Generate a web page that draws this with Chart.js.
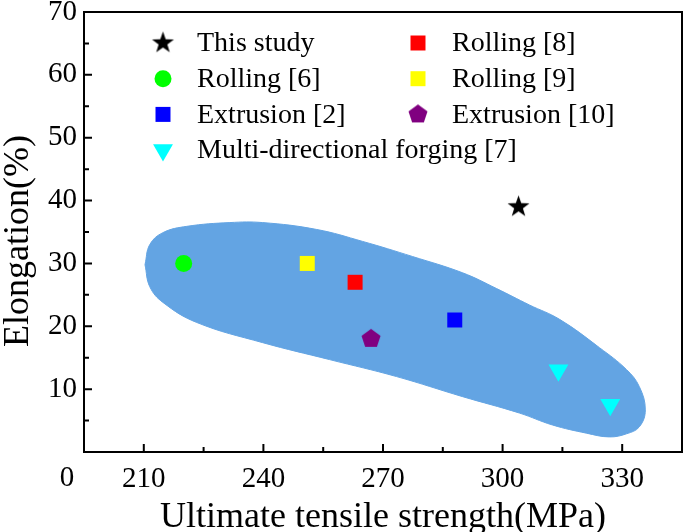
<!DOCTYPE html>
<html>
<head>
<meta charset="utf-8">
<script src="https://cdn.jsdelivr.net/npm/chart.js@4.4.0/dist/chart.umd.min.js"></script>
<style>
  html, body { margin: 0; padding: 0; background: #fff; }
</style>
</head>
<body>
<canvas id="chart" width="685" height="532"></canvas>
<script>
// Series (left legend column first, then right column)
const seriesNames = ['This study', 'Rolling [6]', 'Extrusion [2]', 'Multi-directional forging [7]',
                     'Rolling [8]', 'Rolling [9]', 'Extrusion [10]'];
const strengthValues = [[304], [220], [288], [314, 327], [263], [251], [267]];
const elongationValues = [[39], [30], [21], [13, 7.5], [27], [30], [18]];

// Outline of the shaded region (UTS, elongation)
const blobStrength = [210.3, 211.5, 214.8, 220.8, 231.6, 239.8, 253.4, 264.9, 277.4, 290.0, 298.5, 306.7,
                      314.3, 324.3, 331.1, 334.3, 335.8, 334.3, 331.1, 326.8, 321.0, 312.5, 304.2, 290.0,
                      273.4, 256.6, 239.8, 223.3, 214.8, 211.5, 210.3];
const blobElongation = [29.8, 33.0, 34.9, 35.9, 36.5, 36.5, 35.4, 33.5, 31.1, 28.5, 26.0, 23.4,
                        21.1, 16.6, 13.1, 10.4, 6.7, 4.0, 2.9, 2.4, 3.0, 4.3, 6.2, 8.8,
                        12.0, 14.7, 17.4, 20.6, 23.8, 26.3, 29.8];

// Axis ticks
const xTicks = [210, 240, 270, 300, 330];
const xMinorTicks = [225, 255, 285, 315];
const yTicks = [10, 20, 30, 40, 50, 60, 70];
const yMinorTicks = [5, 15, 25, 35, 45, 55, 65];

const FONT = "'Liberation Serif', 'Times New Roman', serif";

// Marker helpers for shapes Chart.js doesn't have
function polyCanvas(outer, inner, n, color) {
    const c = document.createElement('canvas');
    const s = Math.ceil(outer * 2 + 2);
    c.width = s; c.height = s;
    const g = c.getContext('2d');
    g.fillStyle = color;
    g.beginPath();
    const steps = inner ? n * 2 : n;
    for (let i = 0; i < steps; i++) {
        const r = inner && i % 2 ? inner : outer;
        const a = -Math.PI / 2 + i * Math.PI * 2 / steps;
        const px = s / 2 + r * Math.cos(a), py = s / 2 + r * Math.sin(a);
        i ? g.lineTo(px, py) : g.moveTo(px, py);
    }
    g.closePath();
    g.fill();
    return c;
}

const starImg = polyCanvas(11.5, 4.6, 5, '#000000');
const pentagonImg = polyCanvas(10, 0, 5, '#800080');

const seriesColors = ['#000000', '#00ff00', '#0000ff', '#00ffff', '#ff0000', '#ffff00', '#800080'];
const seriesStyles = [starImg, 'circle', 'rect', 'triangle', 'rect', 'rect', pentagonImg];
const seriesRadius = [10, 8.5, 10.6, 11.5, 10.6, 10.6, 10];
const seriesRotation = [0, 0, 0, 180, 0, 0, 0];

const datasets = seriesNames.map((name, i) => ({
    label: name,
    data: strengthValues[i].map((x, j) => ({ x: x, y: elongationValues[i][j] })),
    backgroundColor: seriesColors[i],
    borderColor: seriesColors[i],
    pointStyle: seriesStyles[i],
    pointRadius: seriesRadius[i],
    pointRotation: seriesRotation[i],
    pointBorderWidth: 0,
    order: 0
}));

datasets.push({
    label: 'region',
    data: blobStrength.map((x, i) => ({ x: x, y: blobElongation[i] })),
    showLine: true,
    fill: 'shape',
    backgroundColor: 'rgb(99,164,227)',
    borderColor: 'rgb(99,164,227)',
    borderWidth: 1,
    pointRadius: 0,
    tension: 0.4,
    order: 10
});

function drawMarker(ctx, style, r, rot, color, x, y) {
    ctx.save();
    ctx.fillStyle = color;
    if (typeof style !== 'string') {
        ctx.drawImage(style, x - style.width / 2, y - style.height / 2);
    } else {
        ctx.translate(x, y);
        ctx.rotate(rot * Math.PI / 180);
        ctx.beginPath();
        if (style === 'circle') {
            ctx.arc(0, 0, r, 0, Math.PI * 2);
        } else if (style === 'rect') {
            const h = r * Math.SQRT1_2;
            ctx.rect(-h, -h, 2 * h, 2 * h);
        } else if (style === 'triangle') {
            for (let k = 0; k < 3; k++) {
                const a = k * Math.PI * 2 / 3;
                const px = Math.sin(a) * r, py = -Math.cos(a) * r;
                k ? ctx.lineTo(px, py) : ctx.moveTo(px, py);
            }
            ctx.closePath();
        }
        ctx.fill();
    }
    ctx.restore();
}

// Frame, inward ticks, titles and legend
const decorPlugin = {
    id: 'decor',
    afterDraw(chart) {
        const ctx = chart.ctx;
        const a = chart.chartArea;
        const xs = chart.scales.x, ys = chart.scales.y;
        ctx.save();
        ctx.strokeStyle = '#000';
        ctx.lineWidth = 2;
        ctx.strokeRect(a.left, a.top, a.right - a.left, a.bottom - a.top);

        ctx.beginPath();
        xTicks.forEach(v => { const p = xs.getPixelForValue(v); ctx.moveTo(p, a.bottom); ctx.lineTo(p, a.bottom - 8); });
        xMinorTicks.forEach(v => { const p = xs.getPixelForValue(v); ctx.moveTo(p, a.bottom); ctx.lineTo(p, a.bottom - 5); });
        yTicks.forEach(v => { const p = ys.getPixelForValue(v); ctx.moveTo(a.left, p); ctx.lineTo(a.left + 8, p); });
        yMinorTicks.forEach(v => { const p = ys.getPixelForValue(v); ctx.moveTo(a.left, p); ctx.lineTo(a.left + 5, p); });
        ctx.stroke();

        ctx.fillStyle = '#000';
        // origin label
        ctx.font = '29px ' + FONT;
        ctx.textAlign = 'center';
        ctx.textBaseline = 'alphabetic';
        ctx.fillText('0', a.left - 17, 486);

        // axis titles
        ctx.font = '36px ' + FONT;
        ctx.fillText('Ultimate tensile strength(MPa)', (a.left + a.right) / 2, 527);
        ctx.save();
        ctx.translate(28, 241);
        ctx.rotate(-Math.PI / 2);
        ctx.fillText('Elongation(%)', 0, 0);
        ctx.restore();

        // legend
        ctx.font = '28px ' + FONT;
        ctx.textAlign = 'left';
        ctx.textBaseline = 'middle';
        seriesNames.forEach((name, i) => {
            const col = i < 4 ? 0 : 1;
            const row = i < 4 ? i : i - 4;
            const mx = a.left + 79 + col * 255;
            const my = a.top + 31 + row * 35.7;
            drawMarker(ctx, seriesStyles[i], seriesRadius[i], seriesRotation[i], seriesColors[i], mx, my);
            ctx.fillText(name, mx + 34, my + 1);
        });
        ctx.restore();
    }
};

new Chart(document.getElementById('chart').getContext('2d'), {
    type: 'scatter',
    data: { datasets: datasets },
    options: {
        responsive: false,
        animation: false,
        devicePixelRatio: 1,
        layout: { autoPadding: false, padding: { top: 12, right: 3, left: 0, bottom: 0 } },
        plugins: {
            legend: { display: false },
            tooltip: { enabled: false }
        },
        scales: {
            x: {
                type: 'linear',
                min: 195,
                max: 345,
                grid: { display: false, drawTicks: false },
                border: { display: false },
                afterBuildTicks: s => { s.ticks = xTicks.map(v => ({ value: v })); },
                afterFit: s => { s.height = 80; s.paddingLeft = 0; s.paddingRight = 0; },
                ticks: { color: '#000', font: { family: FONT, size: 29 }, padding: 10, maxRotation: 0, autoSkip: false }
            },
            y: {
                type: 'linear',
                min: 0,
                max: 70,
                grid: { display: false, drawTicks: false },
                border: { display: false },
                afterBuildTicks: s => { s.ticks = yTicks.map(v => ({ value: v })); },
                afterFit: s => { s.width = 84; s.paddingTop = 0; s.paddingBottom = 0; },
                ticks: { color: '#000', font: { family: FONT, size: 29 }, padding: 7, autoSkip: false }
            }
        }
    },
    plugins: [decorPlugin]
});
</script>
</body>
</html>
